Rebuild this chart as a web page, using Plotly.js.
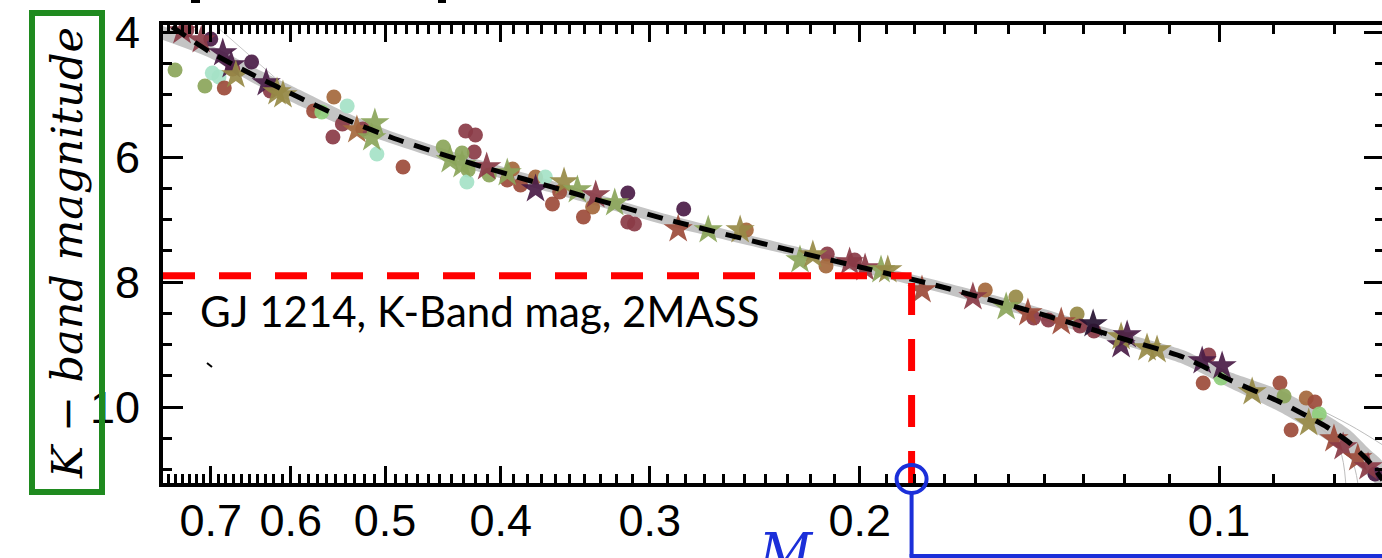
<!DOCTYPE html>
<html><head><meta charset="utf-8">
<script src="https://cdn.plot.ly/plotly-3.0.1.min.js"></script>
<style>
html,body{margin:0;padding:0;background:#fff;overflow:hidden;width:1382px;height:558px}
#chart{width:1387px;height:558px}
</style>
</head><body><div id="chart"></div>
<script>
// ---------------- data ----------------
const massTicks = [0.7, 0.6, 0.5, 0.4, 0.3, 0.2, 0.1];
const massTickText = ['0.7', '0.6', '0.5', '0.4', '0.3', '0.2', '0.1'];
const kmagTicks = [4, 6, 8, 10];

// GJ 1214 marker (mass in solar masses, 2MASS K-band magnitude as drawn)
const gj1214Mass = 0.181;
const gj1214Kmag = 7.9;

// best-fit mass-luminosity relation (black dashed)
const fitMass = [0.754, 0.701, 0.645, 0.589, 0.538, 0.4925, 0.422, 0.348, 0.287, 0.2347, 0.200, 0.1757, 0.1449, 0.1194, 0.1072, 0.0979, 0.0889, 0.0812, 0.0777, 0.0747, 0.0729];
const fitKmag = [3.92, 4.320, 4.688, 5.056, 5.408, 5.696, 6.112, 6.576, 7.024, 7.440, 7.760, 8.016, 8.448, 8.928, 9.200, 9.568, 9.920, 10.320, 10.576, 10.896, 11.168];

// envelope of posterior fit draws (grey band)
const bandMass = [0.768, 0.701, 0.645, 0.589, 0.538, 0.4925, 0.422, 0.348, 0.287, 0.2347, 0.200, 0.1757, 0.1449, 0.1194, 0.1072, 0.0979, 0.0889, 0.0812, 0.0777, 0.0747, 0.0729];
const bandUpper = [3.904, 4.208, 4.560, 4.928, 5.296, 5.600, 6.016, 6.480, 6.944, 7.360, 7.680, 7.936, 8.352, 8.832, 9.088, 9.440, 9.728, 10.128, 10.368, 10.688, 10.880];
const bandLower = [4.128, 4.416, 4.816, 5.184, 5.536, 5.792, 6.208, 6.672, 7.120, 7.520, 7.840, 8.112, 8.544, 9.024, 9.312, 9.696, 10.080, 10.528, 10.816, 11.136, 11.328];

// individual diverging draws
const drawAMass = [0.0872, 0.0815, 0.0792, 0.0783];
const drawAKmag = [10.048, 10.400, 10.688, 11.216];
const drawBMass = [0.0855, 0.0800, 0.0774, 0.0765];
const drawBKmag = [10.080, 10.528, 10.848, 11.216];
const drawCMass = [0.0855, 0.0777, 0.0729];
const drawCKmag = [9.888, 10.288, 10.608];
const drawDMass = [0.690, 0.586];
const drawDKmag = [3.936, 5.120];

// calibration stars shown as circles
const circleMass = [0.750, 0.698, 0.689, 0.708, 0.682, 0.700, 0.647, 0.624, 0.552, 0.538, 0.574, 0.565, 0.543, 0.553, 0.522, 0.508, 0.483, 0.428, 0.420, 0.421, 0.447, 0.431, 0.426, 0.427, 0.409, 0.391, 0.395, 0.385, 0.374, 0.367, 0.357, 0.362, 0.335, 0.313, 0.341, 0.313, 0.309, 0.281, 0.249, 0.213, 0.2135, 0.202, 0.157, 0.148, 0.143, 0.139, 0.1315, 0.1308, 0.1273, 0.1020, 0.0996, 0.1031, 0.0889, 0.0882, 0.0845, 0.0831, 0.0824, 0.0870, 0.0740, 0.733, 0.671];
const circleKmag = [4.608, 4.656, 4.720, 4.864, 4.896, 4.112, 4.480, 4.944, 5.040, 5.184, 5.264, 5.280, 5.472, 5.680, 5.552, 5.952, 6.160, 5.584, 5.648, 5.920, 5.840, 5.936, 6.208, 6.400, 6.288, 6.192, 6.368, 6.448, 6.320, 6.320, 6.560, 6.752, 6.800, 6.576, 6.960, 7.040, 7.072, 6.832, 7.168, 7.552, 7.744, 7.648, 8.128, 8.240, 8.576, 8.608, 8.512, 8.704, 8.784, 9.168, 9.536, 9.616, 9.616, 9.824, 9.856, 9.920, 10.112, 10.368, 11.072, 3.968, 4.592];
const circleGroup = ['GR','MT','MT','GR','RU','DP','DP','MR','OB','MT','RU','LG','MR','MR','MR','MT','RU','MR','MR','MR','GR','GR','GR','MT','GR','OB','RU','RU','OB','MT','RU','RU','OB','DP','RU','MR','MR','DP','OB','MR','OB','MR','OB','OL','MR','MR','OL','MR','MR','MR','LG','RU','RU','GR','OB','RU','LG','RU','DP','MR','MR'];

// calibration stars shown as star symbols
const starMass = [0.740, 0.713, 0.684, 0.673, 0.667, 0.629, 0.616, 0.609, 0.528, 0.510, 0.513, 0.441, 0.431, 0.411, 0.395, 0.374, 0.354, 0.345, 0.333, 0.321, 0.284, 0.268, 0.252, 0.2245, 0.219, 0.204, 0.198, 0.192, 0.1895, 0.1774, 0.1608, 0.1508, 0.1446, 0.1356, 0.1275, 0.1208, 0.1208, 0.1194, 0.1149, 0.1127, 0.1033, 0.0994, 0.0938, 0.0841, 0.0801, 0.0787, 0.0765, 0.0750];
const starKmag = [3.984, 4.128, 4.336, 4.528, 4.688, 4.816, 4.960, 5.008, 5.568, 5.456, 5.696, 6.048, 6.128, 6.160, 6.256, 6.512, 6.400, 6.528, 6.608, 6.736, 7.152, 7.168, 7.168, 7.648, 7.568, 7.680, 7.776, 7.808, 7.808, 8.128, 8.240, 8.400, 8.496, 8.640, 8.672, 9.008, 8.880, 8.848, 9.056, 9.088, 9.264, 9.344, 9.760, 10.256, 10.512, 10.640, 10.816, 10.960];
const starGroup = ['MR','MR','DP','DP','OL','DP','OL','OL','OB','GR','GR','GR','GR','MR','GR','DP','OL','GR','MR','GR','RU','GR','OL','GR','OL','MR','MR','GR','OL','RU','MR','GR','RU','RU','DK','DP','OL','DP','OL','OL','DP','DP','OL','OL','RU','MR','RU','MR'];

// ---------------- styling ----------------
const palette = {DP:'#4a1c46', DK:'#261231', MR:'#8a3b47', RU:'#9c4b3a', OB:'#a4683c', OL:'#978a46', GR:'#8ba55a', LG:'#8fcf7c', MT:'#a5e2c7'};

// plot-area geometry in pixels
const PL = 163, PT = 25, PW = 1221, PH = 458;
const xRange = [-0.11484, -1.13831];   // log10 mass, reversed
const yRange = [11.216, 3.888];        // K mag, bright at top
const pxX = px => (px - PL) / PW;
const pxY = py => (PT + PH - py) / PH;
const massToPaper = m => (Math.log10(m) - xRange[0]) / (xRange[1] - xRange[0]);

const minorMass = [];
for (let i = 8; i <= 76; i++) { if (i % 10 !== 0) minorMass.push(i / 100); }

const grey = '#c4c4c4';
const traces = [
  {x: bandMass.concat(bandMass.slice().reverse()), y: bandUpper.concat(bandLower.slice().reverse()),
   mode: 'lines', fill: 'toself', fillcolor: grey, line: {width: 0, shape: 'spline', smoothing: 0.6}, hoverinfo: 'skip'},
  {x: drawAMass, y: drawAKmag, mode: 'lines', line: {color: '#bdbdbd', width: 1, shape: 'spline'}},
  {x: drawBMass, y: drawBKmag, mode: 'lines', line: {color: '#bdbdbd', width: 1, shape: 'spline'}},
  {x: drawCMass, y: drawCKmag, mode: 'lines', line: {color: '#bdbdbd', width: 1, shape: 'spline'}},
  {x: drawDMass, y: drawDKmag, mode: 'lines', line: {color: '#c8c8c8', width: 1}},
  {x: circleMass, y: circleKmag, mode: 'markers',
   marker: {symbol: 'circle', size: 15, color: circleGroup.map(g => palette[g]), opacity: 0.92, line: {width: 0}}},
  {x: starMass, y: starKmag, mode: 'markers',
   marker: {symbol: 'star', size: 22, color: starGroup.map(g => palette[g]), opacity: 0.92, line: {width: 0}}},
  {x: fitMass, y: fitKmag, mode: 'lines', line: {color: '#000', width: 5, dash: '16px,11px', shape: 'spline', smoothing: 0.6}},
  {x: [Math.pow(10, xRange[0]), gj1214Mass], y: [gj1214Kmag, gj1214Kmag], mode: 'lines',
   line: {color: '#ff0000', width: 7, dash: '32px,24px'}},
  {x: [gj1214Mass, gj1214Mass], y: [yRange[0], gj1214Kmag], mode: 'lines',
   line: {color: '#ff0000', width: 7, dash: '32px,24px'}}
];

const blue = '#1b2fd9';
const gx = massToPaper(gj1214Mass);
const layout = {
  width: 1387, height: 558,
  margin: {l: PL, r: 1387 - PL - PW, t: PT, b: 558 - PT - PH, pad: 0},
  paper_bgcolor: '#fff', plot_bgcolor: '#fff',
  showlegend: false,
  font: {family: 'Liberation Sans, Arial, sans-serif', color: '#000'},
  xaxis: {
    type: 'log', range: xRange, showgrid: false, zeroline: false,
    showline: true, linecolor: '#000', linewidth: 4, mirror: 'ticks',
    ticks: 'inside', ticklen: 17, tickwidth: 3, tickcolor: '#000',
    tickmode: 'array', tickvals: massTicks, ticktext: massTickText,
    tickfont: {size: 45, color: '#000', family: 'Liberation Sans, Arial, sans-serif'},
    ticklabelstandoff: -5,
    minor: {tickmode: 'array', tickvals: minorMass, ticks: 'inside', ticklen: 9, tickwidth: 3, tickcolor: '#000', showgrid: false}
  },
  yaxis: {
    range: yRange, showgrid: false, zeroline: false,
    showline: true, linecolor: '#000', linewidth: 4, mirror: 'ticks',
    ticks: 'inside', ticklen: 20, tickwidth: 3, tickcolor: '#000',
    tickmode: 'array', tickvals: kmagTicks,
    tickfont: {size: 45, color: '#000', family: 'Liberation Sans, Arial, sans-serif'},
    ticklabelstandoff: 10,
    minor: {tickmode: 'linear', tick0: 0, dtick: 0.5, ticks: 'inside', ticklen: 9, tickwidth: 3, tickcolor: '#000', showgrid: false}
  },
  shapes: [
    // green framed axis label box
    {type: 'rect', xref: 'paper', yref: 'paper', x0: pxX(32), x1: pxX(102), y0: pxY(492), y1: pxY(13),
     line: {color: '#1f8a1f', width: 6}, fillcolor: 'rgba(0,0,0,0)', layer: 'above'},
    // blue marker of GJ 1214 mass on the axis and connector
    {type: 'line', xref: 'paper', yref: 'paper', x0: gx, x1: gx, y0: pxY(493), y1: pxY(557), line: {color: blue, width: 4}},
    {type: 'line', xref: 'paper', yref: 'paper', x0: gx - 2 / PW, x1: pxX(1390), y0: pxY(556), y1: pxY(556), line: {color: blue, width: 4}},
    {type: 'circle', xref: 'paper', yref: 'paper', x0: gx - 15 / PW, x1: gx + 15 / PW, y0: pxY(493), y1: pxY(465),
     line: {color: blue, width: 4}, fillcolor: 'rgba(0,0,0,0)'},
    // small stray marks from the original figure
    {type: 'line', xref: 'paper', yref: 'paper', x0: pxX(207), x1: pxX(212), y0: pxY(363), y1: pxY(367), line: {color: '#000', width: 2}},
    {type: 'rect', xref: 'paper', yref: 'paper', x0: pxX(191), x1: pxX(200), y0: pxY(0), y1: pxY(3), line: {width: 0}, fillcolor: '#000'},
    {type: 'rect', xref: 'paper', yref: 'paper', x0: pxX(438), x1: pxX(446), y0: pxY(0), y1: pxY(3), line: {width: 0}, fillcolor: '#000'}
  ],
  annotations: [
    {xref: 'paper', yref: 'paper', x: pxX(67), y: pxY(253), xanchor: 'center', yanchor: 'middle',
     text: '<i>K − band magnitude</i>', textangle: -90, showarrow: false,
     font: {family: 'DejaVu Serif, serif', size: 43, color: '#000'}},
    {xref: 'paper', yref: 'paper', x: pxX(198), y: pxY(311), xanchor: 'left', yanchor: 'middle',
     text: 'GJ 1214, K-Band mag, 2MASS', showarrow: false,
     font: {family: 'Lato, Carlito, sans-serif', size: 42, color: '#000'}},
    {xref: 'paper', yref: 'paper', x: pxX(786), y: pxY(520), xanchor: 'center', yanchor: 'top',
     text: '<i>M</i>', showarrow: false,
     font: {family: 'DejaVu Serif, serif', size: 52, color: blue}}
  ]
};

Plotly.newPlot('chart', traces, layout, {displayModeBar: false, staticPlot: true});
</script></body></html>
